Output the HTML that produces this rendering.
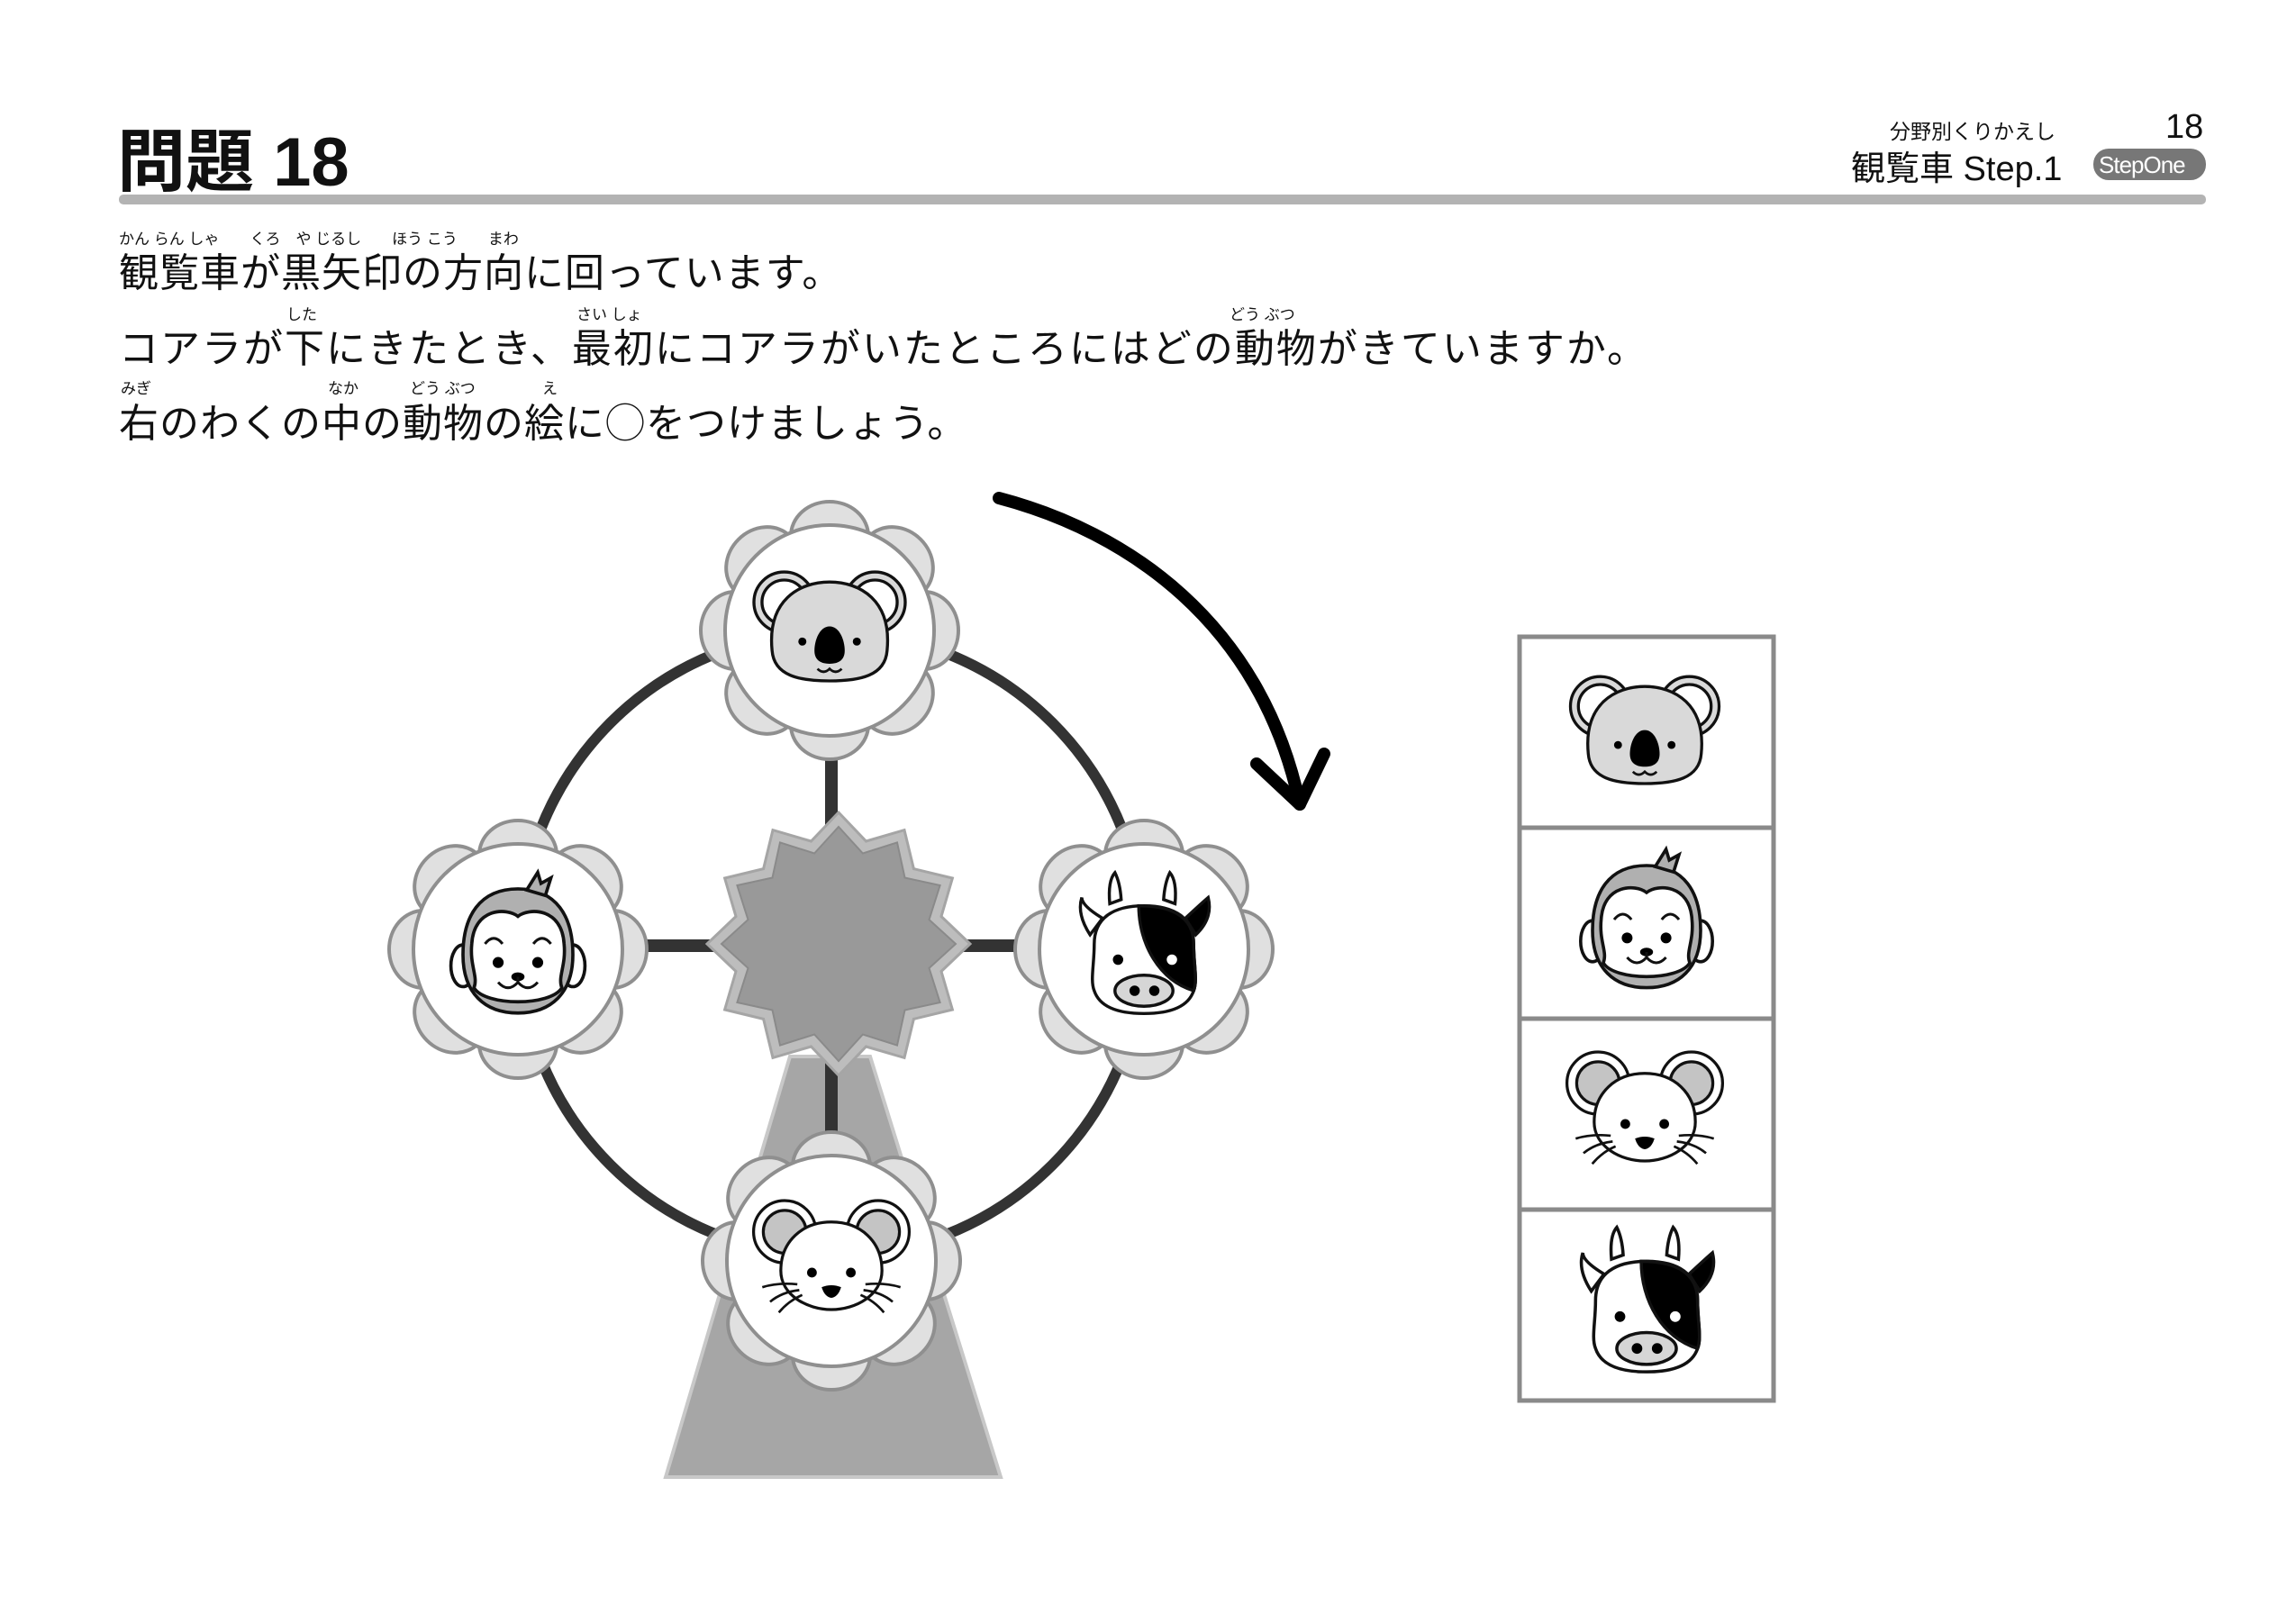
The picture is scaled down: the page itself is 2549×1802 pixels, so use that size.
<!DOCTYPE html>
<html><head><meta charset="utf-8"><style>
body{margin:0;background:#fff;width:2549px;height:1802px;overflow:hidden;position:relative;font-family:"Liberation Sans","Noto Sans CJK JP",sans-serif;}
.t{position:absolute;white-space:nowrap;color:#111}
</style></head><body>
<svg width="2549" height="1802" style="position:absolute;left:0;top:0">
<defs>
<g id="petals">
 <g fill="#e0e0e0" stroke="#8f8f8f" stroke-width="4">
  <ellipse cx="0" cy="-105" rx="43" ry="38"/>
  <ellipse cx="0" cy="-105" rx="43" ry="38" transform="rotate(45)"/>
  <ellipse cx="0" cy="-105" rx="43" ry="38" transform="rotate(90)"/>
  <ellipse cx="0" cy="-105" rx="43" ry="38" transform="rotate(135)"/>
  <ellipse cx="0" cy="-105" rx="43" ry="38" transform="rotate(180)"/>
  <ellipse cx="0" cy="-105" rx="43" ry="38" transform="rotate(225)"/>
  <ellipse cx="0" cy="-105" rx="43" ry="38" transform="rotate(270)"/>
  <ellipse cx="0" cy="-105" rx="43" ry="38" transform="rotate(315)"/>
 </g>
 <ellipse cx="0" cy="0" rx="116" ry="117" fill="#fff" stroke="#8f8f8f" stroke-width="4"/>
</g>
<g id="koala" stroke="#111" stroke-width="3">
 <circle cx="-45" cy="-28" r="30" fill="#d9d9d9"/><circle cx="-45" cy="-28" r="22" fill="#fff"/>
 <circle cx="45" cy="-28" r="30" fill="#d9d9d9"/><circle cx="45" cy="-28" r="22" fill="#fff"/>
 <path d="M-57,20 C-62,-30 -30,-48 0,-48 C30,-48 62,-30 57,20 C55,45 30,50 0,50 C-30,50 -55,45 -57,20Z" fill="#d9d9d9"/>
 <path d="M0,-4 C-10,-4 -15,10 -15,20 C-15,30 -8,33 0,33 C8,33 15,30 15,20 C15,10 10,-4 0,-4Z" fill="#000" stroke="none"/>
 <circle cx="-27" cy="11" r="4" fill="#000" stroke="none"/><circle cx="27" cy="11" r="4" fill="#000" stroke="none"/>
 <path d="M-12,38 q6,6 12,0 q6,6 12,0" fill="none" stroke-width="2.5"/>
</g>
<g id="monkey" stroke="#111" stroke-width="3">
 <ellipse cx="-50" cy="15" rx="11" ry="19" fill="#fff"/><ellipse cx="50" cy="15" rx="11" ry="19" fill="#fff"/>
 <path d="M0,-55 C-35,-55 -50,-30 -50,5 C-50,40 -30,58 0,58 C30,58 50,40 50,5 C50,-30 35,-55 0,-55Z" fill="#b0b0b0"/>
 <path d="M8,-54 l10,-16 l3,10 l9,-5 l-5,16Z" fill="#b0b0b0"/>
 <path d="M0,-30 C-10,-38 -40,-38 -42,-5 C-44,15 -36,25 -40,35 C-30,52 30,52 40,35 C36,25 44,15 42,-5 C40,-38 10,-38 0,-30Z" fill="#fff"/>
 <path d="M-30,-5 q8,-10 16,0 M14,-5 q8,-10 16,0" fill="none" stroke-width="2.5"/>
 <circle cx="-18" cy="12" r="5" fill="#000" stroke="none"/><circle cx="18" cy="12" r="5" fill="#000" stroke="none"/>
 <ellipse cx="0" cy="25" rx="6" ry="4" fill="#000" stroke="none"/>
 <path d="M-18,30 q9,10 18,0 q9,10 18,0 M0,25 v5" fill="none" stroke-width="2.5"/>
</g>
<g id="mouse" stroke="#111" stroke-width="3">
 <circle cx="-48" cy="-30" r="32" fill="#fff"/><circle cx="-48" cy="-30" r="22" fill="#c4c4c4"/>
 <circle cx="48" cy="-30" r="32" fill="#fff"/><circle cx="48" cy="-30" r="22" fill="#c4c4c4"/>
 <path d="M0,-40 C-30,-40 -52,-20 -52,10 C-52,35 -25,50 0,50 C25,50 52,35 52,10 C52,-20 30,-40 0,-40Z" fill="#fff"/>
 <circle cx="-20" cy="12" r="5" fill="#000" stroke="none"/><circle cx="20" cy="12" r="5" fill="#000" stroke="none"/>
 <path d="M-10,27 q10,-4 20,0 q-3,10 -10,11 q-7,-1 -10,-11Z" fill="#000" stroke="none"/>
 <path d="M-35,24 q-20,-2 -36,3 M-33,30 q-18,2 -30,12 M-30,35 q-14,6 -24,18 M35,24 q20,-2 36,3 M33,30 q18,2 30,12 M30,35 q14,6 24,18" fill="none" stroke-width="2.5"/>
</g>
<g id="cow" stroke="#111" stroke-width="3">
 <path d="M-33,-44 q-2,-22 5,-30 q5,10 6,26Z" fill="#fff"/>
 <path d="M30,-44 q2,-22 -5,-30 q-5,10 -6,26Z" fill="#fff"/>
 <path d="M-40,-30 q-20,-12 -20,-20 q-5,16 8,36Z" fill="#fff"/>
 <path d="M40,-30 q15,-14 22,-20 q5,20 -12,36Z" fill="#000"/>
 <path d="M0,-42 C-30,-42 -48,-30 -48,-5 C-48,15 -52,30 -48,40 C-42,58 -20,62 0,62 C20,62 42,58 48,40 C52,30 48,15 48,-5 C48,-30 30,-42 0,-42Z" fill="#fff"/>
 <path d="M-5,-42 C-5,-5 15,30 48,40 C52,30 48,15 48,-5 C48,-30 30,-42 -5,-42Z" fill="#000"/>
 <circle cx="-25" cy="10" r="5" fill="#000" stroke="none"/><circle cx="27" cy="10" r="5" fill="#fff" stroke="none"/>
 <ellipse cx="0" cy="40" rx="28" ry="15" fill="#d6d6d6"/>
 <circle cx="-9" cy="40" r="5" fill="#000" stroke="none"/><circle cx="10" cy="40" r="5" fill="#000" stroke="none"/>
</g>
</defs>

<rect x="132" y="216" width="2317" height="11" rx="5" fill="#b3b3b3"/>
<rect x="2324" y="165" width="125" height="35" rx="17" fill="#777"/>

<g transform="translate(8,0)">
<polygon points="869,1173 958,1173 1103,1640 731,1640" fill="#a6a6a6" stroke="#c8c8c8" stroke-width="4"/>
<circle cx="915" cy="1048" r="347" fill="none" stroke="#333" stroke-width="12"/>
<g stroke="#333" stroke-width="14">
<line x1="915" y1="700" x2="915" y2="1393"/><line x1="567" y1="1050" x2="1262" y2="1050"/>
</g>
<polygon id="star" fill="#bdbdbd" points="" />
<g transform="translate(913,700)"><use href="#petals"/><use href="#koala" transform="scale(1.12)"/></g>
<g transform="translate(567,1054)"><use href="#petals"/><use href="#monkey" transform="scale(1.22)"/></g>
<g transform="translate(1262,1054)"><use href="#petals"/><use href="#cow" transform="scale(1.15)"/></g>
<g transform="translate(915,1400)"><use href="#petals"/><use href="#mouse" transform="scale(1.08)"/></g>
</g>

<path d="M1109,553 C1250,590 1400,690 1443,893" fill="none" stroke="#000" stroke-width="14" stroke-linecap="round"/>
<path d="M1395,848 L1443,893 L1470,837" fill="none" stroke="#000" stroke-width="14" stroke-linecap="round" stroke-linejoin="round"/>

<g fill="#fff" stroke="#8a8a8a" stroke-width="5">
<rect x="1687" y="707" width="282" height="848"/>
<line x1="1687" y1="919" x2="1969" y2="919"/>
<line x1="1687" y1="1131" x2="1969" y2="1131"/>
<line x1="1687" y1="1343" x2="1969" y2="1343"/>
</g>
<use href="#koala" transform="translate(1826,815) scale(1.1)"/>
<use href="#monkey" transform="translate(1828,1027) scale(1.2)"/>
<use href="#mouse" transform="translate(1826,1235) scale(1.08)"/>
<use href="#cow" transform="translate(1828,1450) scale(1.18)"/>
</svg>
<script>
(function(){var cx=923,cy=1048,pts1=[],pts2=[];for(var i=0;i<24;i++){var a=i*Math.PI/12-Math.PI/2;var r=i%2?118:146;var r2=i%2?104:130;pts1.push((cx+r*Math.cos(a)).toFixed(1)+','+(cy+r*Math.sin(a)).toFixed(1));pts2.push((cx+r2*Math.cos(a)).toFixed(1)+','+(cy+r2*Math.sin(a)).toFixed(1));}
var s=document.getElementById('star');s.setAttribute('points',pts1.join(' '));s.setAttribute('stroke','#a5a5a5');s.setAttribute('stroke-width','3');
var p=document.createElementNS('http://www.w3.org/2000/svg','polygon');p.setAttribute('points',pts2.join(' '));p.setAttribute('fill','#999');p.setAttribute('stroke','#8a8a8a');p.setAttribute('stroke-width','2');s.parentNode.insertBefore(p,s.nextSibling);})();
</script>
<div class="t" style="left:130px;top:118px;font-size:76px;font-weight:bold;">問題 18</div>
<div class="t" style="left:2098px;top:127px;font-size:23px;">分野別くりかえし</div>
<div class="t" style="left:2404px;top:120px;font-size:38px;">18</div>
<div class="t" style="left:2055px;top:156px;font-size:38px;">観覧車 Step.1</div>
<div class="t" style="left:2330px;top:168px;font-size:26px;color:#fff;letter-spacing:-1px;">StepOne</div>

<div class="t" style="left:132px;top:251px;font-size:17px;">かん らん しゃ　　くろ　や じるし　　ほう こう　　まわ</div>
<div class="t" style="left:132px;top:267px;font-size:44px;letter-spacing:1px;">観覧車が黒矢印の方向に回っています。</div>
<div class="t" style="left:318px;top:335px;font-size:17px;">した</div>
<div class="t" style="left:640px;top:335px;font-size:17px;">さい しょ</div>
<div class="t" style="left:1365px;top:335px;font-size:17px;">どう ぶつ</div>
<div class="t" style="left:132px;top:351px;font-size:44px;letter-spacing:2px;">コアラが下にきたとき、最初にコアラがいたところにはどの動物がきていますか。</div>
<div class="t" style="left:134px;top:417px;font-size:17px;">みぎ</div>
<div class="t" style="left:364px;top:417px;font-size:17px;">なか</div>
<div class="t" style="left:455px;top:417px;font-size:17px;">どう ぶつ</div>
<div class="t" style="left:602px;top:417px;font-size:17px;">え</div>
<div class="t" style="left:132px;top:434px;font-size:44px;letter-spacing:1px;">右のわくの中の動物の絵に◯をつけましょう。</div>
</body></html>
